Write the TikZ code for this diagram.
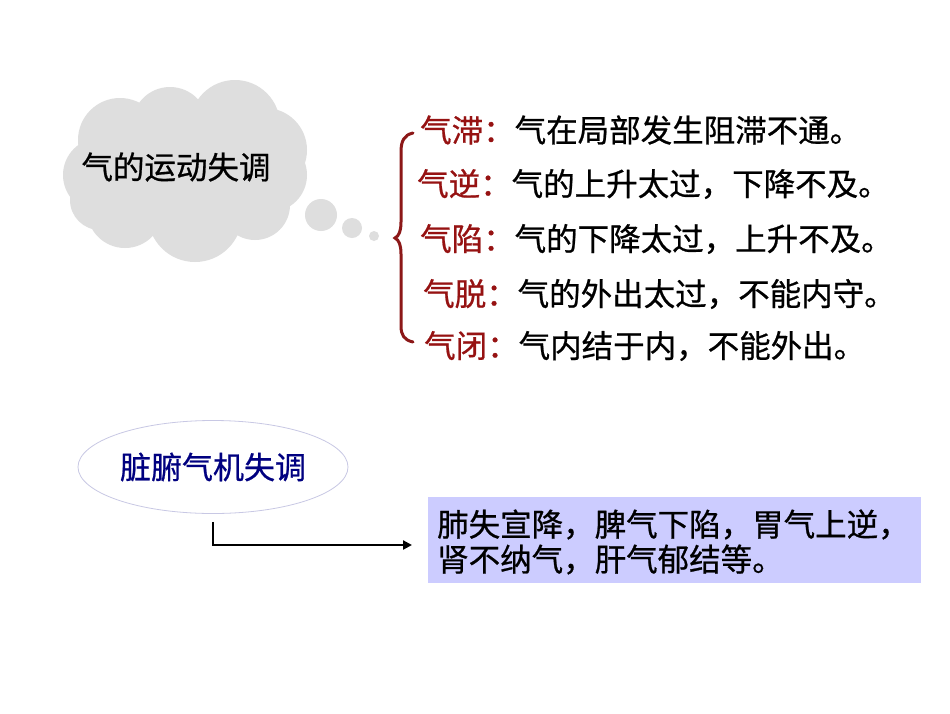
\documentclass[tikz,border=0pt]{standalone}
\usepackage{fontspec}
\setmainfont{Noto Sans CJK SC}[BoldFont={Noto Sans CJK SC}, BoldFeatures={FakeBold=0.7}]
\usetikzlibrary{shapes.geometric,arrows.meta}
\definecolor{cloudgrey}{RGB}{222,222,222}
\definecolor{labred}{RGB}{150,18,18}
\definecolor{bracered}{RGB}{140,24,24}
\definecolor{navy}{RGB}{0,0,128}
\definecolor{ellline}{RGB}{200,200,228}
\definecolor{boxfill}{RGB}{204,204,255}
\tikzset{
  bigtxt/.style={font=\fontsize{31.5}{37}\selectfont\bfseries, inner sep=0pt},
  listline/.style={bigtxt, anchor=west},
}
\begin{document}
\begin{tikzpicture}[x=1pt,y=-1pt]
\fill[white] (0,0) rectangle (950,713);
\useasboundingbox (0,0) rectangle (950,713);
% cloud
\fill[cloudgrey]
  (100,175) circle (37)
  (120,140) circle (42)
  (170,125) circle (38)
  (235,125) circle (45)
  (265,150) circle (42)
  (270,175) circle (37)
  (255,205) circle (35)
  (195,215) circle (47)
  (125,210) circle (38)
  (100,200) circle (30)
  (185,172) circle (62);
\fill[cloudgrey] (321,215) circle (16) (352,228) circle (10) (374,236) circle (5);
\node[bigtxt] (cloudtxt) at (176,167) {气的运动失调};
% brace
\draw[bracered, line width=3pt, line cap=round]
  (413,133) .. controls (404,135) and (401,141) .. (401,152)
  -- (401,222) .. controls (401,231) and (399,236) .. (395,238)
  .. controls (399,240) and (401,245) .. (401,254)
  -- (401,326) .. controls (401,335) and (404,340) .. (413,342);
% list
\node[listline] (l1) at (420,130) {{\color{labred}气滞：}气在局部发生阻滞不通。};
\node[listline] (l2) at (417,184) {{\color{labred}气逆：}气的上升太过，下降不及。};
\node[listline] (l3) at (420,239) {{\color{labred}气陷：}气的下降太过，上升不及。};
\node[listline] (l4) at (423,294) {{\color{labred}气脱：}气的外出太过，不能内守。};
\node[listline] (l5) at (424,346) {{\color{labred}气闭：}气内结于内，不能外出。};
% ellipse
\node[ellipse, draw=ellline, line width=0.8pt, fill=white, minimum width=270pt, minimum height=93pt, inner sep=0pt,
      font=\fontsize{31}{36}\selectfont\bfseries, text=navy] (ell) at (213,467) {脏腑气机失调};
% box
\node[rectangle, fill=boxfill, minimum width=493pt, minimum height=86pt, inner sep=0pt, anchor=north west] (box) at (428,497) {};
\node[bigtxt, anchor=west, align=left] (boxtxt) at (437,542) {肺失宣降，脾气下陷，胃气上逆，\\[-2pt]肾不纳气，肝气郁结等。};
% connector
\coordinate (arrend) at (412,545);
\draw[line width=2.6pt, -{Triangle[length=9pt,width=9pt]}] ([yshift=-8pt]ell.south) |- (arrend);
\end{tikzpicture}
\end{document}
